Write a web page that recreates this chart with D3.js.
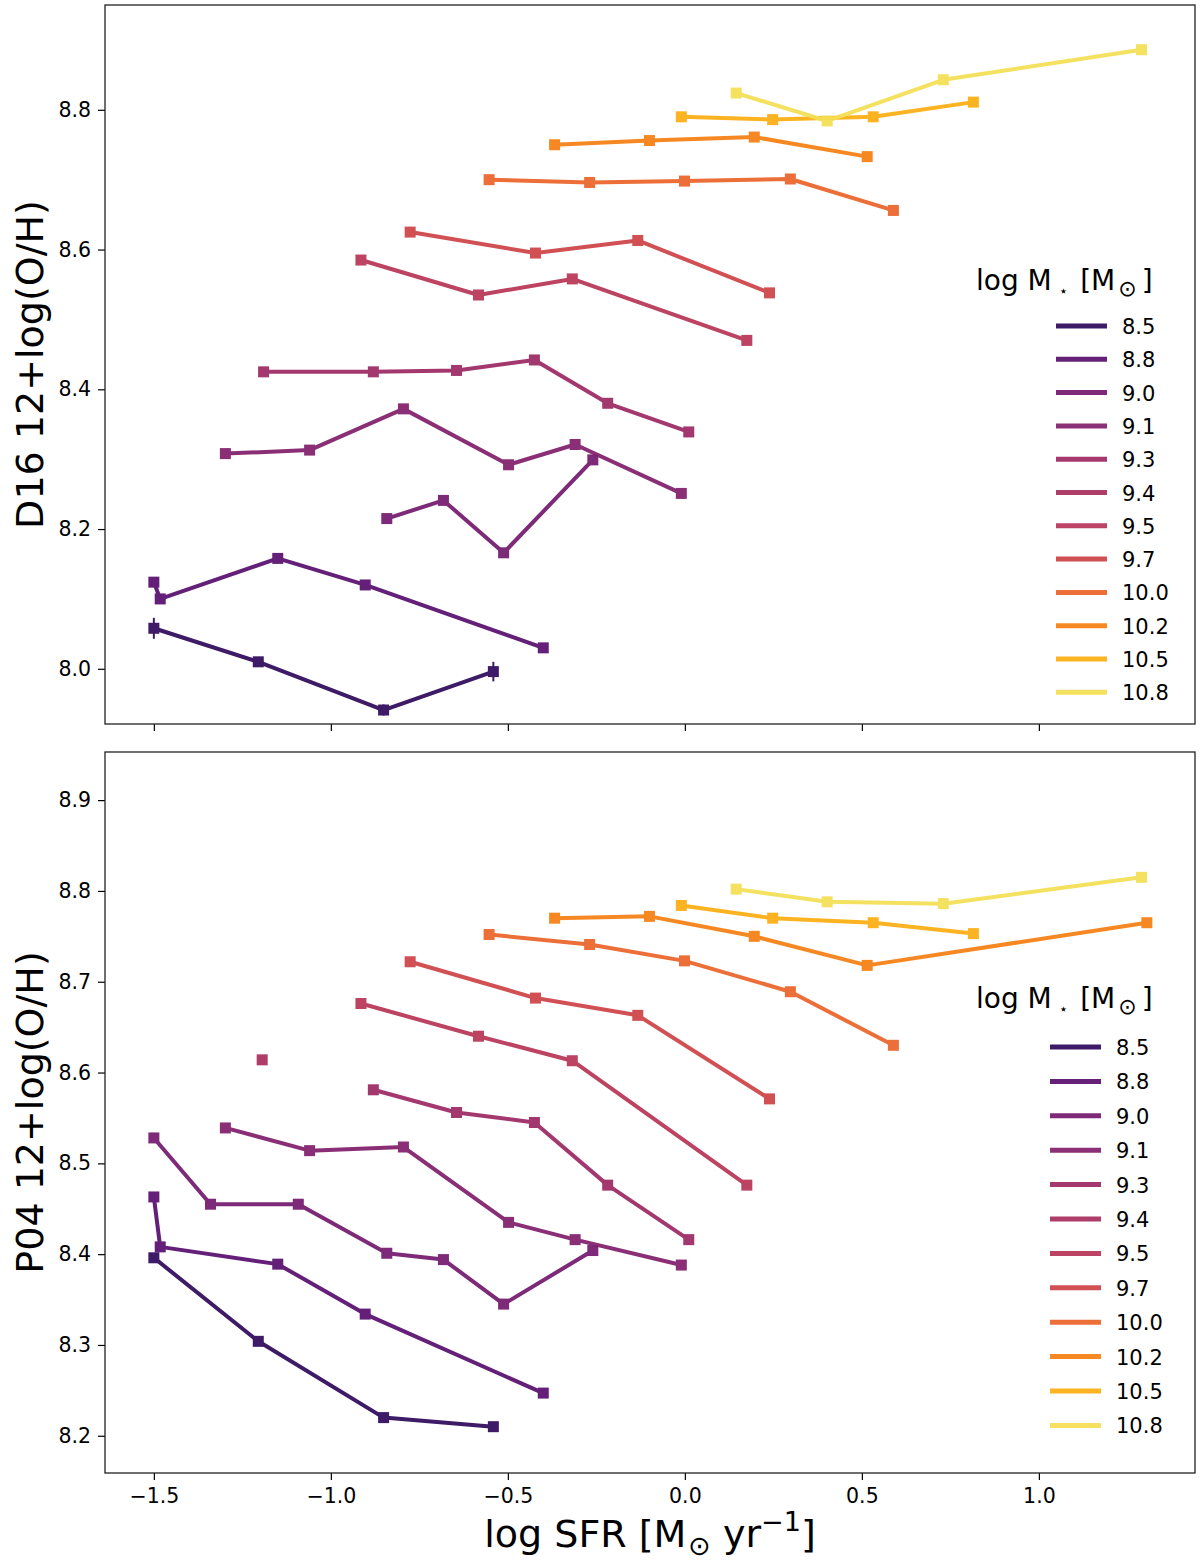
<!DOCTYPE html>
<html>
<head>
<meta charset="utf-8">
<script src="https://cdn.jsdelivr.net/npm/d3@7"></script>
<style>
  body { margin: 0; background: #fff; }
  svg, svg text { font-family: 'DejaVu Sans', sans-serif; }
</style>
</head>
<body>
<svg id="chart" width="1200" height="1563"></svg>
<script>
// stellar mass bins (legend labels)
const massLabels = ['8.5', '8.8', '9.0', '9.1', '9.3', '9.4', '9.5', '9.7', '10.0', '10.2', '10.5', '10.8'];
const massValues = [8.5, 8.8, 9.0, 9.1, 9.3, 9.4, 9.5, 9.7, 10.0, 10.2, 10.5, 10.8];

// log SFR of each bin, one row per mass
const sfrBins = [
  [-1.5, -1.205, -0.851, -0.541],
  [-1.5, -1.482, -1.15, -0.903, -0.40],
  [-1.5, -1.34, -1.092, -0.842, -0.682, -0.512, -0.26],
  [-1.298, -1.06, -0.795, -0.498, -0.31, -0.01],
  [-1.19, -0.88, -0.645, -0.425, -0.218, 0.011],
  [-1.194],
  [-0.915, -0.583, -0.318, 0.175],
  [-0.776, -0.422, -0.133, 0.239],
  [-0.553, -0.269, -0.001, 0.298, 0.589],
  [-0.368, -0.100, 0.196, 0.515, 1.305],
  [-0.010, 0.248, 0.532, 0.815],
  [0.145, 0.402, 0.730, 1.290]
];

// D16 metallicity (null = no value)
const ohD16 = [
  [8.058, 8.010, 7.941, 7.996],
  [8.124, 8.100, 8.158, 8.120, 8.030],
  [null, null, null, 8.215, 8.241, 8.166, 8.299],
  [8.308, 8.313, 8.372, 8.292, 8.321, 8.251],
  [8.425, 8.425, 8.427, 8.442, 8.380, 8.339],
  [null],
  [8.585, 8.535, 8.558, 8.470],
  [8.625, 8.595, 8.613, 8.538],
  [8.700, 8.696, 8.698, 8.701, 8.656],
  [8.750, 8.756, 8.761, 8.733, null],
  [8.790, 8.786, 8.790, 8.811],
  [8.824, 8.784, 8.843, 8.886]
];

// errors on D16 where visible
const errD16 = [
  [0.015, 0.004, 0.008, 0.014]
];

// P04 metallicity
const ohP04 = [
  [8.396, 8.304, 8.220, 8.210],
  [8.463, 8.408, 8.389, 8.334, 8.247],
  [8.528, 8.455, 8.455, 8.401, 8.394, 8.345, 8.404],
  [8.539, 8.514, 8.518, 8.435, 8.416, 8.388],
  [null, 8.581, 8.556, 8.545, 8.476, 8.416],
  [8.614],
  [8.676, 8.640, 8.613, 8.476],
  [8.722, 8.682, 8.663, 8.571],
  [8.752, 8.741, 8.723, 8.689, 8.630],
  [8.770, 8.772, 8.750, 8.718, 8.765],
  [8.784, 8.770, 8.765, 8.753],
  [8.802, 8.788, 8.786, 8.815]
];

const xTicks = [-1.5, -1.0, -0.5, 0.0, 0.5, 1.0];
const yTicksD16 = [8.0, 8.2, 8.4, 8.6, 8.8];
const yTicksP04 = [8.2, 8.3, 8.4, 8.5, 8.6, 8.7, 8.8, 8.9];

const svg = d3.select('#chart');
const left = 105;
const right = 1195;
const FONT = "'DejaVu Sans', sans-serif";

const color = d3.scaleSequential(d3.interpolateInferno).domain([8.02, 11.05]);
const seriesOpacity = 0.93;

const x = d3.scaleLinear().domain([-1.638, 1.441]).range([left, right]);

function styleAxis (a) {
  a.attr('font-family', FONT);
  a.select('.domain').remove();
  a.selectAll('text').attr('font-size', 20.5).attr('fill', '#000');
  a.selectAll('line').attr('stroke', '#000').attr('stroke-width', 1.2);
}

function drawPanel (cfg) {
  const y = d3.scaleLinear().domain(cfg.yDomain).range([cfg.bottom, cfg.top]);
  const g = svg.append('g');

  g.append('g')
    .attr('transform', `translate(${left},0)`)
    .call(d3.axisLeft(y).tickValues(cfg.yTicks).tickSize(7).tickPadding(7).tickFormat(d3.format('.1f')))
    .call(styleAxis);

  const xAxis = d3.axisBottom(x).tickValues(xTicks).tickSize(7).tickPadding(8).tickFormat(d3.format('.1f'));
  if (!cfg.xLabels) {
    xAxis.tickFormat('');
  }
  g.append('g')
    .attr('transform', `translate(0,${cfg.bottom})`)
    .call(xAxis)
    .call(styleAxis);

  const line = d3.line()
    .defined((d) => d.oh != null)
    .x((d) => x(d.sfr))
    .y((d) => y(d.oh));

  massValues.forEach((m, i) => {
    const pts = sfrBins[i].map((s, j) => ({
      sfr: s,
      oh: cfg.oh[i][j],
      err: cfg.err && cfg.err[i] ? cfg.err[i][j] : 0
    }));
    const c = color(m);
    const s = g.append('g').attr('opacity', seriesOpacity);

    s.append('path')
      .datum(pts)
      .attr('d', line)
      .attr('fill', 'none')
      .attr('stroke', c)
      .attr('stroke-width', 4)
      .attr('stroke-linejoin', 'round');

    const valid = pts.filter((d) => d.oh != null);

    s.selectAll('line.err')
      .data(valid.filter((d) => d.err > 0))
      .enter()
      .append('line')
      .attr('class', 'err')
      .attr('x1', (d) => x(d.sfr))
      .attr('x2', (d) => x(d.sfr))
      .attr('y1', (d) => y(d.oh - d.err))
      .attr('y2', (d) => y(d.oh + d.err))
      .attr('stroke', c)
      .attr('stroke-width', 2);

    s.selectAll('rect')
      .data(valid)
      .enter()
      .append('rect')
      .attr('x', (d) => x(d.sfr) - 5.5)
      .attr('y', (d) => y(d.oh) - 5.5)
      .attr('width', 11)
      .attr('height', 11)
      .attr('fill', c);
  });

  // frame
  g.append('rect')
    .attr('x', left)
    .attr('y', cfg.top)
    .attr('width', right - left)
    .attr('height', cfg.bottom - cfg.top)
    .attr('fill', 'none')
    .attr('stroke', '#222')
    .attr('stroke-width', 1.3);

  // y label
  g.append('text')
    .attr('transform', `translate(43,${(cfg.top + cfg.bottom) / 2}) rotate(-90)`)
    .attr('text-anchor', 'middle')
    .style('font-size', '38px')
    .text(cfg.yLabel);

  // legend
  const title = g.append('text')
    .attr('x', 976)
    .attr('y', cfg.legendTitleY)
    .style('font-size', '28px');
  title.append('tspan').text('log M');
  title.append('tspan').attr('dy', 6).attr('dx', 7).style('font-size', '15px').text('⋆');
  title.append('tspan').attr('dy', -6).attr('dx', 12).text('[M');
  title.append('tspan').attr('dy', 6).attr('dx', 3).style('font-size', '22px').text('⊙');
  title.append('tspan').attr('dy', -6).attr('dx', 5).text(']');

  massLabels.forEach((lab, i) => {
    const ly = cfg.legendY + i * cfg.legendStep;
    g.append('line')
      .attr('x1', cfg.legendX)
      .attr('x2', cfg.legendX + 51)
      .attr('y1', ly)
      .attr('y2', ly)
      .attr('stroke', color(massValues[i]))
      .attr('stroke-opacity', seriesOpacity)
      .attr('stroke-width', 5);
    g.append('text')
      .attr('x', cfg.legendX + 66)
      .attr('y', ly + 8)
      .style('font-size', '21px')
      .text(lab);
  });
}

drawPanel({
  top: 5,
  bottom: 724,
  yDomain: [7.921, 8.950],
  yTicks: yTicksD16,
  oh: ohD16,
  err: errD16,
  yLabel: 'D16 12+log(O/H)',
  xLabels: false,
  legendTitleY: 290,
  legendX: 1056,
  legendY: 326,
  legendStep: 33.3
});

drawPanel({
  top: 752,
  bottom: 1473,
  yDomain: [8.159, 8.953],
  yTicks: yTicksP04,
  oh: ohP04,
  err: null,
  yLabel: 'P04 12+log(O/H)',
  xLabels: true,
  legendTitleY: 1008,
  legendX: 1050,
  legendY: 1047,
  legendStep: 34.4
});

// x label
const xl = svg.append('text')
  .attr('x', (left + right) / 2)
  .attr('y', 1547)
  .attr('text-anchor', 'middle')
  .style('font-size', '38px');
xl.append('tspan').text('log SFR [M');
xl.append('tspan').attr('dy', 8).attr('dx', 2).style('font-size', '27px').text('⊙');
xl.append('tspan').attr('dy', -8).attr('dx', 12).text('yr');
xl.append('tspan').attr('dy', -16).style('font-size', '27px').text('−1');
xl.append('tspan').attr('dy', 16).text(']');
</script>
</body>
</html>
